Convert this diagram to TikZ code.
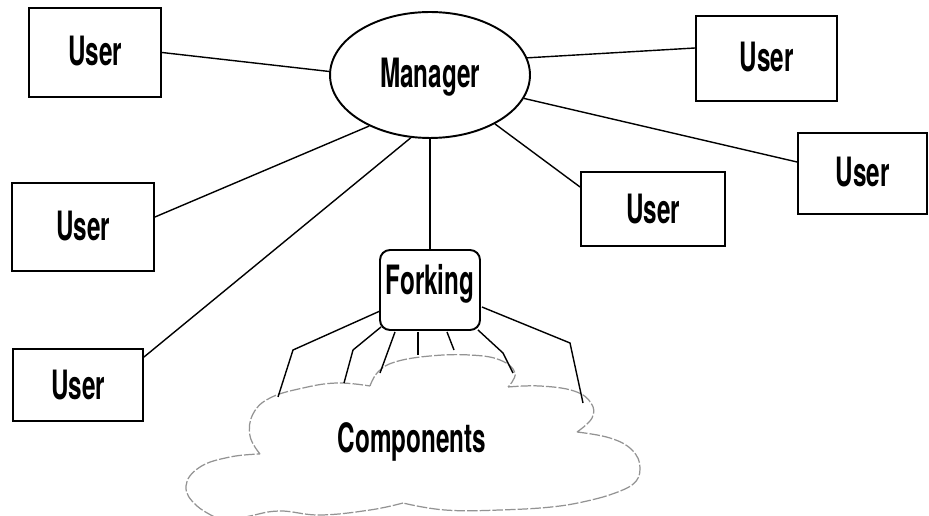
\documentclass[tikz,border=0pt]{standalone}
\usepackage{fontspec}
\setmainfont{TeX Gyre Heros}
\usepackage{graphicx}
\usetikzlibrary{calc,shapes.geometric}
\newcommand\cndtxt[1]{\scalebox{0.6}[1]{\bfseries #1}}
\begin{document}
\begin{tikzpicture}[x=0.02cm,y=-0.02cm,
  line width=0.8pt,
  lbl/.style={font=\fontsize{23}{23}\selectfont, text height=0.6cm},
  userbox/.style={draw, line width=1.1pt, inner sep=0pt, lbl, text depth=0.06cm},
  cloudline/.style={draw=gray!85, line width=0.7pt, dash pattern=on 6pt off 1.2pt}
]
\clip (0,0) rectangle (929,516);
\fill[white] (0,0) rectangle (929,516);

% user boxes
\node[userbox, minimum width=2.64cm, minimum height=1.78cm] (u1) at (95,52.5) {\cndtxt{User}};
\node[userbox, minimum width=2.82cm, minimum height=1.70cm] (u2) at (766.5,58.5) {\cndtxt{User}};
\node[userbox, minimum width=2.58cm, minimum height=1.62cm] (u3) at (862.5,173.5) {\cndtxt{User}};
\node[userbox, minimum width=2.88cm, minimum height=1.48cm, text depth=0.02cm] (u4) at (653,209) {\cndtxt{User}};
\node[userbox, minimum width=2.84cm, minimum height=1.76cm, text depth=0.04cm] (u5) at (83,227) {\cndtxt{User}};
\node[userbox, minimum width=2.60cm, minimum height=1.44cm, text depth=0cm] (u6) at (78,385) {\cndtxt{User}};

% manager and forking
\node[draw, ellipse, line width=1.1pt, inner sep=0pt, minimum width=4cm, minimum height=2.52cm, lbl, text depth=0.08cm] (mgr) at (430,75) {\cndtxt{Manager}};
\node[draw, rounded corners=0.2cm, line width=1.1pt, inner sep=0pt, minimum width=2cm, minimum height=1.6cm, lbl, text depth=0.4cm] (fork) at (430,290) {\cndtxt{Forking}};

% cloud
\path[cloudline]
  plot[smooth, tension=0.7] coordinates {(260,454) (250,436) (253,414) (270,398) (303,388) (337,383) (370,386)}
  plot[smooth, tension=0.7] coordinates {(370,386) (378,372) (395,362) (430,356) (470,355) (500,360) (515,373) (508,387)}
  plot[smooth, tension=0.7] coordinates {(508,387) (540,386) (574,391) (591,403) (592,418) (577,432)}
  plot[smooth, tension=0.7] coordinates {(577,432) (610,438) (632,450) (640,468) (632,485) (603,497)}
  plot[smooth, tension=0.7] coordinates {(603,497) (560,506) (500,510) (445,510) (403,503)}
  plot[smooth, tension=0.7] coordinates {(403,503) (370,510) (320,515) (280,511) (250,516) (225,522)}
  plot[smooth, tension=0.7] coordinates {(225,522) (197,506) (186,486) (200,467) (230,457) (260,454)};
\node[lbl, text depth=0cm] (comp) at (412,438) {\cndtxt{Components}};

% connectors to manager
\draw (u1.east) -- (mgr.178);
\draw ($(u2.west)+(0,-10.5)$) -- (mgr.10);
\draw ($(u3.west)+(0,-11.5)$) -- (mgr.-14);
\draw ($(u4.west)+(0,-22)$) -- (mgr.-37);
\draw ($(u5.east)+(0,-10)$) -- (mgr.220);
\draw ($(u6.north east)+(0,9)$) -- (mgr.253);
\draw (mgr.south) -- (fork.north);

% forking to components
\coordinate (k1) at (278,397);
\coordinate (k2) at (344,383);
\coordinate (k3) at (380,373);
\coordinate (k4) at (418,355);
\coordinate (k5) at (454,350);
\coordinate (k6) at (513,373);
\coordinate (k7) at (583,403);
\draw ($(fork.west)+(1,21)$) -- (293,350) -- (k1);
\draw ($(fork.south west)+(2,-4)$) -- (353,350) -- (k2);
\draw ($(fork.south)+(-35,1)$) -- (k3);
\draw ($(fork.south)+(-12,1)$) -- (k4);
\draw ($(fork.south)+(17,1)$) -- (k5);
\draw ($(fork.south east)+(-3,-1)$) -- (503,353) -- (k6);
\draw ($(fork.east)+(1,17)$) -- (570,343) -- (k7);
\end{tikzpicture}
\end{document}
